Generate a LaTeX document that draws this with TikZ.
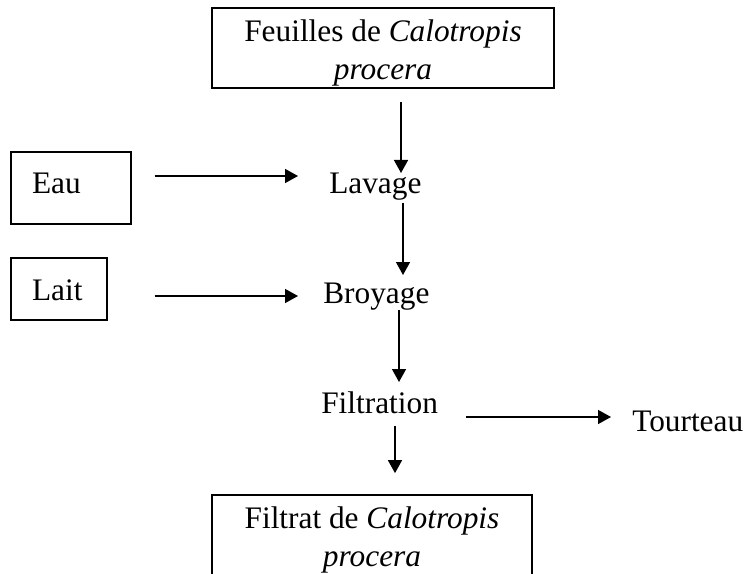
\documentclass[tikz,border=0pt]{standalone}
\usepackage{fontspec}
\setmainfont{Liberation Serif}
\usetikzlibrary{arrows.meta,calc}
\begin{document}
\begin{tikzpicture}[x=0.75pt,y=-0.75pt,
  font=\fontsize{23.5}{28.5}\selectfont,
  bigbox/.style={draw,line width=1.3pt,inner sep=0pt,align=center},
  smallbox/.style={draw,line width=1.1pt,inner xsep=15.75pt,inner ysep=0pt,align=left},
  lbl/.style={inner sep=0pt,anchor=base west},
  arr/.style={line width=1.1pt,-{Triangle[length=9.75pt,width=10.5pt]}}]
\useasboundingbox (0,0) rectangle (749,574);
% boxes
\node[bigbox,minimum width=256.5pt,minimum height=60pt,text height=49pt,text depth=1pt]
  (top) at (383,48) {Feuilles de \textit{Calotropis}\\\textit{procera}};
\node[smallbox,text width=58.5pt,minimum height=54pt,text height=12pt,text depth=4.5pt]
  (eau) at (71,188) {Eau};
\node[smallbox,text width=40.5pt,minimum height=46.5pt,text height=18pt,text depth=1.5pt]
  (lait) at (59,289) {Lait};
\node[bigbox,minimum width=240pt,minimum height=63.75pt,text height=44pt,text depth=1.25pt]
  (bot) at (372,537.5) {Filtrat de \textit{Calotropis}\\\textit{procera}};
% step labels
\node[lbl] (lav) at (329,193) {Lavage};
\node[lbl] (bro) at (323,303) {Broyage};
\node[lbl] (fil) at (321,413) {Filtration};
\node[lbl] (tou) at (632,431) {Tourteau};
% connectors
\draw[arr] ($(top.south)+(18,13)$) -- ($(lav.base west)+(72,-20)$);
\draw[arr] ($(eau.east)+(23,-12)$) -- ($(lav.base west)+(-31,-17)$);
\draw[arr] ($(lav.base west)+(74,10)$) -- ($(bro.base west)+(80,-28)$);
\draw[arr] ($(lait.east)+(47,7)$) -- ($(bro.base west)+(-25,-7)$);
\draw[arr] ($(bro.base west)+(76,7)$) -- ($(fil.base west)+(78,-31)$);
\draw[arr] ($(fil.base west)+(145,4)$) -- ($(tou.base west)+(-21,-14)$);
\draw[arr] ($(fil.base west)+(74,13)$) -- ($(bot.north)+(23,-21)$);
\end{tikzpicture}
\end{document}
